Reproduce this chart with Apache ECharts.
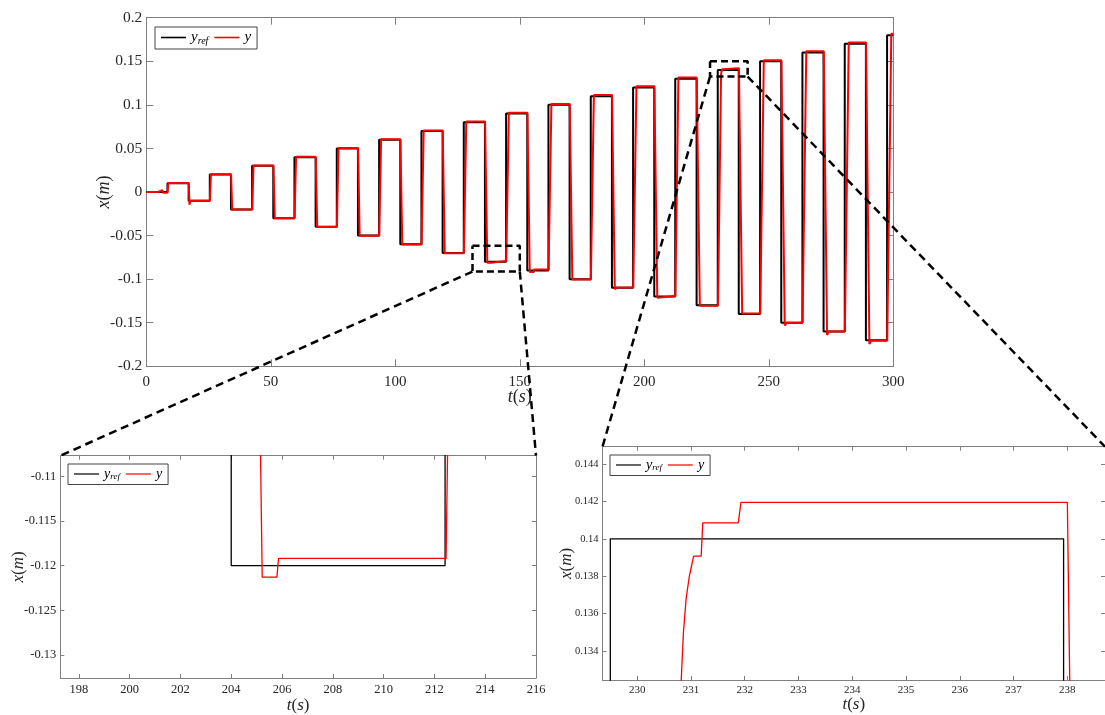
<!DOCTYPE html>
<html><head><meta charset="utf-8">
<script src="https://cdn.jsdelivr.net/npm/echarts@6/dist/echarts.min.js"></script>
<style>html,body{margin:0;padding:0;background:#fff}#c{width:1105px;height:715px}</style>
</head><body><div id="c"></div>
<script>
// reference signal: switch times (s) and levels (m)
const refT = [0, 8.5, 17, 25.5, 34, 42.5, 51, 59.5, 68, 76.5, 85, 93.5, 102, 110.5, 119, 127.5, 136, 144.5, 153, 161.5, 170, 178.5, 187, 195.5, 204, 212.42, 221, 229.5, 237.93, 246.5, 255, 263.5, 272, 280.5, 289, 297.5, 300];
const refX = [0, 0.01, -0.01, 0.02, -0.02, 0.03, -0.03, 0.04, -0.04, 0.05, -0.05, 0.06, -0.06, 0.07, -0.07, 0.08, -0.08, 0.09, -0.09, 0.10, -0.10, 0.11, -0.11, 0.12, -0.12, 0.13, -0.13, 0.14, -0.14, 0.15, -0.15, 0.16, -0.16, 0.17, -0.17, 0.18, 0.18];
// measured output y
const yT = [0, 4.7, 4.9, 6.5, 6.7, 8.5, 8.85, 17.05, 17.35, 17.7, 25.55, 25.95, 34.05, 34.5, 42.55, 43.05, 51.05, 51.6, 59.55, 60.15, 68.05, 68.65, 76.55, 77.2, 85.05, 85.7, 93.55, 94.3, 102.05, 102.8, 110.55, 111.4, 119.05, 119.85, 127.55, 128.5, 136.05, 136.95, 138.4, 138.5, 144.55, 145.6, 153.05, 154.0, 155.6, 155.7, 161.55, 162.7, 170.05, 171.1, 178.55, 179.75, 187.05, 188.15, 188.9, 189.0, 195.55, 196.85, 204.05, 205.22, 205.8, 205.86, 212.46, 213.7, 221.05, 222.3, 229.6, 230.82, 230.86, 230.91, 230.97, 231.05, 231.19, 231.22, 231.88, 231.93, 238.0, 239.3, 246.55, 248.0, 255.05, 256.4, 257.1, 257.2, 263.55, 265.05, 272.05, 273.4, 274.0, 274.1, 280.55, 282.1, 289.05, 290.4, 291.0, 291.1, 297.55, 299.2, 300];
const yV = [0, 0, 0.0022, 0.0022, -0.0008, -0.0008, 0.0102, 0.0102, -0.0146, -0.0099, -0.0099, 0.0203, 0.0203, -0.0202, -0.0202, 0.0303, 0.0303, -0.0302, -0.0302, 0.0404, 0.0404, -0.0402, -0.0402, 0.0505, 0.0505, -0.0502, -0.0502, 0.0606, 0.0606, -0.0603, -0.0603, 0.0707, 0.0707, -0.0703, -0.0703, 0.0808, 0.0808, -0.0812, -0.0812, -0.0793, -0.0793, 0.0909, 0.0909, -0.0919, -0.0919, -0.0888, -0.0888, 0.1011, 0.1011, -0.1004, -0.1004, 0.1112, 0.1112, -0.1116, -0.1116, -0.1097, -0.1097, 0.1213, 0.1213, -0.1213, -0.1213, -0.1192, -0.1192, 0.1314, 0.1314, -0.1305, -0.1305, 0.1325, 0.1350, 0.1368, 0.1380, 0.13908, 0.13908, 0.14086, 0.14086, 0.14195, 0.14195, -0.1393, -0.1393, 0.1512, 0.1512, -0.1533, -0.1533, -0.1500, -0.1500, 0.1615, 0.1615, -0.1640, -0.1640, -0.1602, -0.1602, 0.1714, 0.1714, -0.1744, -0.1744, -0.1706, -0.1706, 0.1815, 0.1815];

// axis ranges / ticks
const mainTRange = [0, 300];
const mainXRange = [-0.2, 0.2];
const inset1TRange = [197.27, 216];
const inset1XRange = [-0.13258, -0.1077];
const inset1TTicks = [198, 200, 202, 204, 206, 208, 210, 212, 214, 216];
const inset1XTicks = [-0.13, -0.125, -0.12, -0.115, -0.11];
const inset2TRange = [229.355, 238.7];
const inset2XRange = [0.13245, 0.14493];
const inset2TTicks = [230, 231, 232, 233, 234, 235, 236, 237, 238];
const inset2XTicks = [0.134, 0.136, 0.138, 0.14, 0.142, 0.144];
// zoom windows marked on the main plot
const box1T = [131, 150];
const box1X = [-0.0913, -0.0617];
const box2T = [226.4, 241.5];
const box2X = [0.1325, 0.150];

const FONT = 'Liberation Serif';
const AX = '#808080';
const LBL = '#262626';

const refData = refT.map((t, i) => [t, refX[i]]);
const yData = yT.map((t, i) => [t, yV[i]]);

function nameRich(size) {
  return {
    fontFamily: FONT, fontSize: size, color: LBL,
    rich: {
      i: { fontFamily: FONT, fontStyle: 'italic', fontSize: size, color: LBL },
      r: { fontFamily: FONT, fontSize: size, color: LBL }
    }
  };
}
const tName = '{i|t}{r|(}{i|s}{r|)}';
const xName = '{i|x}{r|(}{i|m}{r|)}';

function xAxes(grid, range, opt) {
  const base = {
    type: 'value', gridIndex: grid, min: range[0], max: range[1],
    splitLine: { show: false },
    axisLine: { show: true, onZero: false, lineStyle: { color: AX, width: 1 } },
    axisTick: { show: true, inside: true, length: opt.tick, lineStyle: { color: AX } }
  };
  if (opt.interval) base.interval = opt.interval;
  const bottom = Object.assign({}, base, {
    position: 'bottom',
    name: tName, nameLocation: 'middle', nameGap: opt.nameGap, nameMoveOverlap: false,
    nameTextStyle: nameRich(opt.nameSize),
    axisLabel: { show: true, margin: opt.margin, fontFamily: FONT, fontSize: opt.font, color: LBL, showMinLabel: true, showMaxLabel: true }
  });
  const top = Object.assign({}, base, { position: 'top', axisLabel: { show: false } });
  if (opt.ticks) {
    bottom.axisTick = Object.assign({}, base.axisTick, { customValues: opt.ticks });
    bottom.axisLabel.customValues = opt.ticks;
    top.axisTick = Object.assign({}, base.axisTick, { customValues: opt.ticks });
  }
  return [bottom, top];
}
function yAxes(grid, range, opt) {
  const base = {
    type: 'value', gridIndex: grid, min: range[0], max: range[1],
    splitLine: { show: false },
    axisLine: { show: true, onZero: false, lineStyle: { color: AX, width: 1 } },
    axisTick: { show: true, inside: true, length: opt.tick, lineStyle: { color: AX } }
  };
  if (opt.interval) base.interval = opt.interval;
  const left = Object.assign({}, base, {
    position: 'left',
    name: xName, nameLocation: 'middle', nameGap: opt.nameGap, nameRotate: 90, nameMoveOverlap: false,
    nameTextStyle: nameRich(opt.nameSize),
    axisLabel: { show: true, margin: opt.margin, fontFamily: FONT, fontSize: opt.font, color: LBL, showMinLabel: true, showMaxLabel: true }
  });
  const right = Object.assign({}, base, { position: 'right', axisLabel: { show: false } });
  if (opt.ticks) {
    left.axisTick = Object.assign({}, base.axisTick, { customValues: opt.ticks });
    left.axisLabel.customValues = opt.ticks;
    right.axisTick = Object.assign({}, base.axisTick, { customValues: opt.ticks });
  }
  return [left, right];
}

const legendFormatter = name => name === 'yref' ? '{i|y}{s|ref}' : '{i|y}';
function legend(left, top, size, lw) {
  return {
    left: left, top: top, orient: 'horizontal',
    data: [{ name: 'yref', icon: 'rect' }, { name: 'y', icon: 'rect' }],
    itemWidth: 25, itemHeight: lw, itemGap: 6,
    padding: [3, 6, 3, 6],
    borderColor: '#444', borderWidth: 1, backgroundColor: '#fff',
    selectedMode: false,
    formatter: legendFormatter,
    textStyle: {
      fontFamily: FONT, fontStyle: 'italic', fontSize: size, color: '#000',
      rich: {
        i: { fontFamily: FONT, fontStyle: 'italic', fontSize: size, color: '#000' },
        s: { fontFamily: FONT, fontStyle: 'italic', fontSize: Math.round(size * 0.65), color: '#000', padding: [Math.round(size * 0.45), 0, 0, 0] }
      }
    }
  };
}

function seriesPair(idx, w) {
  return [
    { name: 'yref', type: 'line', xAxisIndex: idx * 2, yAxisIndex: idx * 2, data: refData, step: 'end',
      symbol: 'none', lineStyle: { color: '#000', width: w }, itemStyle: { color: '#000' }, clip: true, z: 2 },
    { name: 'y', type: 'line', xAxisIndex: idx * 2, yAxisIndex: idx * 2, data: yData,
      symbol: 'none', lineStyle: { color: '#ff0000', width: w }, itemStyle: { color: '#ff0000' }, clip: true, z: 3 }
  ];
}
function boxSeries(T, X) {
  return { type: 'line', xAxisIndex: 0, yAxisIndex: 0, symbol: 'none', silent: true, z: 10,
    data: [[T[0], X[1]], [T[1], X[1]], [T[1], X[0]], [T[0], X[0]], [T[0], X[1]]],
    lineStyle: { color: '#000', width: 2.5, type: [7, 4] } };
}

const option = {
  animation: false,
  backgroundColor: '#fff',
  grid: [
    { left: 146.3, top: 17.7, width: 747, height: 348.6, show: false },
    { left: 60.3, top: 455.7, width: 475.7, height: 227.6, show: false },
    { left: 602.5, top: 446.7, width: 508.8, height: 233.3, show: false }
  ],
  xAxis: [].concat(
    xAxes(0, mainTRange, { tick: 7, interval: 50, nameGap: 22, nameSize: 18, margin: 8, font: 15 }),
    xAxes(1, inset1TRange, { tick: 4, ticks: inset1TTicks, nameGap: 19, nameSize: 17, margin: 5, font: 12.5 }),
    xAxes(2, inset2TRange, { tick: 4, ticks: inset2TTicks, nameGap: 16, nameSize: 17, margin: 5, font: 11 })
  ),
  yAxis: [].concat(
    yAxes(0, mainXRange, { tick: 7, interval: 0.05, nameGap: 33, nameSize: 18, margin: 4, font: 15.5 }),
    yAxes(1, inset1XRange, { tick: 4, ticks: inset1XTicks, nameGap: 33, nameSize: 17, margin: 4, font: 12.5 }),
    yAxes(2, inset2XRange, { tick: 4, ticks: inset2XTicks, nameGap: 27, nameSize: 17, margin: 4, font: 10.5 })
  ),
  legend: [
    legend(155, 27, 15, 1.6),
    legend(68, 464, 14, 1.2),
    legend(610, 455, 14, 1.2)
  ],
  series: [].concat(
    seriesPair(0, 2),
    seriesPair(1, 1.3),
    seriesPair(2, 1.3),
    [boxSeries(box1T, box1X), boxSeries(box2T, box2X)]
  )
};

const chart = echarts.init(document.getElementById('c'), null, { renderer: 'canvas' });
chart.setOption(option);

const px = (g, v) => chart.convertToPixel({ xAxisIndex: g * 2, yAxisIndex: g * 2 }, v);
const connectors = [
  [px(0, [box1T[0], box1X[0]]), px(1, [inset1TRange[0], inset1XRange[1]])],
  [px(0, [box1T[1], box1X[0]]), px(1, [inset1TRange[1], inset1XRange[1]])],
  [px(0, [box2T[0], box2X[0]]), px(2, [inset2TRange[0], inset2XRange[1]])],
  [px(0, [box2T[1], box2X[0]]), px(2, [inset2TRange[1], inset2XRange[1]])]
];
chart.setOption({
  graphic: connectors.map(([a, b]) => ({
    type: 'line', z: 100, silent: true,
    shape: { x1: a[0], y1: a[1], x2: b[0], y2: b[1] },
    style: { stroke: '#000', lineWidth: 2.5, lineDash: [8, 5] }
  }))
});
</script>
</body></html>
